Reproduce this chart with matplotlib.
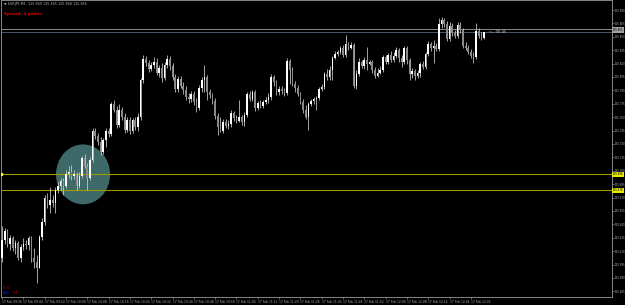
import numpy as np
import pandas as pd
import matplotlib
matplotlib.use('Agg')
import matplotlib.pyplot as plt
from matplotlib.patches import Ellipse

# EURJPY M1 candles
symbol = "EURJPY,M1"
start_time = "2017-02-17 09:36"
spread_points = 4

opn = np.array([
    125.602, 125.623, 125.633, 125.618, 125.625, 125.614, 125.619, 125.602, 125.615, 125.618,
    125.617, 125.625, 125.602, 125.598, 125.591, 125.626, 125.643, 125.670, 125.662, 125.667,
    125.664, 125.679, 125.683, 125.689, 125.683, 125.696, 125.699, 125.694, 125.696, 125.683,
    125.694, 125.714, 125.705, 125.692, 125.712, 125.745, 125.739, 125.732, 125.721, 125.734,
    125.745, 125.741, 125.775, 125.768, 125.751, 125.768, 125.760, 125.746, 125.757, 125.745,
    125.757, 125.749, 125.760, 125.802, 125.825, 125.821, 125.814, 125.818, 125.822, 125.809,
    125.815, 125.804, 125.818, 125.825, 125.817, 125.805, 125.792, 125.803, 125.795, 125.790,
    125.783, 125.780, 125.786, 125.777, 125.770, 125.793, 125.802, 125.805, 125.788, 125.785,
    125.778, 125.761, 125.749, 125.745, 125.755, 125.750, 125.752, 125.765, 125.759, 125.756,
    125.760, 125.755, 125.762, 125.786, 125.780, 125.788, 125.770, 125.776, 125.773, 125.777,
    125.779, 125.783, 125.805, 125.799, 125.788, 125.792, 125.789, 125.787, 125.823, 125.813,
    125.797, 125.793, 125.786, 125.777, 125.768, 125.760, 125.775, 125.778, 125.780, 125.781,
    125.792, 125.794, 125.808, 125.805, 125.813, 125.826, 125.831, 125.833, 125.837, 125.830,
    125.842, 125.837, 125.841, 125.795, 125.808, 125.822, 125.817, 125.824, 125.820, 125.822,
    125.813, 125.806, 125.809, 125.813, 125.827, 125.822, 125.830, 125.824, 125.829, 125.835,
    125.826, 125.822, 125.837, 125.824, 125.808, 125.812, 125.806, 125.809, 125.820, 125.816,
    125.831, 125.842, 125.837, 125.840, 125.836, 125.864, 125.869, 125.864, 125.848, 125.862,
    125.854, 125.851, 125.863, 125.858, 125.840, 125.837, 125.833, 125.829, 125.827, 125.856,
    125.851, 125.849])

high = np.array([
    125.638, 125.636, 125.635, 125.628, 125.627, 125.623, 125.621, 125.618, 125.625, 125.623,
    125.627, 125.627, 125.614, 125.606, 125.628, 125.647, 125.673, 125.675, 125.682, 125.673,
    125.682, 125.687, 125.692, 125.692, 125.701, 125.705, 125.706, 125.701, 125.699, 125.699,
    125.717, 125.719, 125.709, 125.715, 125.748, 125.748, 125.742, 125.738, 125.737, 125.748,
    125.748, 125.777, 125.779, 125.773, 125.775, 125.771, 125.765, 125.760, 125.760, 125.759,
    125.760, 125.765, 125.804, 125.830, 125.829, 125.824, 125.822, 125.827, 125.826, 125.818,
    125.821, 125.822, 125.830, 125.829, 125.821, 125.808, 125.806, 125.806, 125.799, 125.795,
    125.787, 125.789, 125.789, 125.781, 125.796, 125.805, 125.818, 125.807, 125.792, 125.787,
    125.781, 125.765, 125.760, 125.758, 125.758, 125.757, 125.768, 125.767, 125.762, 125.779,
    125.762, 125.766, 125.788, 125.789, 125.790, 125.790, 125.778, 125.779, 125.779, 125.783,
    125.787, 125.808, 125.807, 125.802, 125.795, 125.795, 125.793, 125.826, 125.825, 125.816,
    125.800, 125.796, 125.788, 125.780, 125.774, 125.777, 125.780, 125.783, 125.784, 125.794,
    125.797, 125.811, 125.814, 125.817, 125.829, 125.834, 125.835, 125.840, 125.841, 125.852,
    125.844, 125.844, 125.843, 125.813, 125.826, 125.824, 125.827, 125.839, 125.824, 125.824,
    125.816, 125.815, 125.817, 125.830, 125.830, 125.832, 125.834, 125.833, 125.839, 125.837,
    125.830, 125.840, 125.840, 125.826, 125.815, 125.814, 125.813, 125.822, 125.823, 125.833,
    125.845, 125.844, 125.846, 125.843, 125.871, 125.872, 125.871, 125.868, 125.867, 125.865,
    125.858, 125.867, 125.867, 125.860, 125.844, 125.841, 125.836, 125.833, 125.865, 125.860,
    125.855, 125.855])

low = np.array([
    125.598, 125.618, 125.615, 125.611, 125.610, 125.607, 125.600, 125.598, 125.611, 125.612,
    125.611, 125.598, 125.591, 125.574, 125.591, 125.623, 125.639, 125.658, 125.653, 125.659,
    125.653, 125.675, 125.679, 125.673, 125.681, 125.692, 125.690, 125.691, 125.679, 125.681,
    125.692, 125.703, 125.679, 125.690, 125.710, 125.736, 125.729, 125.718, 125.719, 125.727,
    125.738, 125.739, 125.766, 125.748, 125.749, 125.757, 125.742, 125.743, 125.741, 125.742,
    125.746, 125.745, 125.757, 125.798, 125.817, 125.811, 125.812, 125.815, 125.807, 125.805,
    125.799, 125.802, 125.815, 125.813, 125.802, 125.788, 125.788, 125.793, 125.786, 125.779,
    125.776, 125.777, 125.774, 125.766, 125.768, 125.788, 125.788, 125.779, 125.781, 125.775,
    125.758, 125.740, 125.743, 125.742, 125.748, 125.747, 125.749, 125.756, 125.754, 125.755,
    125.751, 125.750, 125.760, 125.778, 125.778, 125.767, 125.768, 125.770, 125.770, 125.775,
    125.776, 125.779, 125.795, 125.785, 125.785, 125.786, 125.784, 125.785, 125.797, 125.795,
    125.788, 125.784, 125.775, 125.765, 125.758, 125.746, 125.773, 125.775, 125.768, 125.779,
    125.789, 125.792, 125.802, 125.802, 125.802, 125.825, 125.829, 125.831, 125.827, 125.827,
    125.835, 125.836, 125.793, 125.792, 125.806, 125.815, 125.814, 125.813, 125.818, 125.809,
    125.804, 125.805, 125.808, 125.811, 125.820, 125.820, 125.822, 125.822, 125.826, 125.822,
    125.816, 125.820, 125.820, 125.802, 125.804, 125.802, 125.804, 125.805, 125.814, 125.814,
    125.829, 125.834, 125.821, 125.834, 125.834, 125.860, 125.861, 125.845, 125.845, 125.851,
    125.849, 125.849, 125.854, 125.837, 125.835, 125.831, 125.826, 125.821, 125.825, 125.849,
    125.846, 125.848])

close = np.array([
    125.623, 125.633, 125.618, 125.625, 125.614, 125.619, 125.602, 125.615, 125.618, 125.617,
    125.625, 125.602, 125.598, 125.591, 125.626, 125.643, 125.670, 125.662, 125.667, 125.664,
    125.679, 125.683, 125.689, 125.683, 125.696, 125.699, 125.694, 125.696, 125.683, 125.694,
    125.714, 125.705, 125.692, 125.712, 125.745, 125.739, 125.732, 125.721, 125.734, 125.745,
    125.741, 125.775, 125.768, 125.751, 125.768, 125.760, 125.746, 125.757, 125.745, 125.757,
    125.749, 125.760, 125.802, 125.825, 125.821, 125.814, 125.818, 125.822, 125.809, 125.815,
    125.804, 125.818, 125.825, 125.817, 125.805, 125.792, 125.803, 125.795, 125.790, 125.783,
    125.780, 125.786, 125.777, 125.770, 125.793, 125.802, 125.805, 125.788, 125.785, 125.778,
    125.761, 125.749, 125.745, 125.755, 125.750, 125.752, 125.765, 125.759, 125.756, 125.760,
    125.755, 125.762, 125.786, 125.780, 125.788, 125.770, 125.776, 125.773, 125.777, 125.779,
    125.783, 125.805, 125.799, 125.788, 125.792, 125.789, 125.787, 125.823, 125.813, 125.797,
    125.793, 125.786, 125.777, 125.768, 125.760, 125.775, 125.778, 125.780, 125.781, 125.792,
    125.794, 125.808, 125.805, 125.813, 125.826, 125.831, 125.833, 125.837, 125.830, 125.842,
    125.837, 125.841, 125.795, 125.808, 125.822, 125.817, 125.824, 125.820, 125.822, 125.813,
    125.806, 125.809, 125.813, 125.827, 125.822, 125.830, 125.824, 125.829, 125.835, 125.826,
    125.822, 125.837, 125.824, 125.808, 125.812, 125.806, 125.809, 125.820, 125.816, 125.831,
    125.842, 125.837, 125.840, 125.836, 125.864, 125.869, 125.864, 125.848, 125.862, 125.854,
    125.851, 125.863, 125.858, 125.840, 125.837, 125.833, 125.829, 125.827, 125.856, 125.851,
    125.849, 125.855])

# horizontal levels and the circle object
level_upper = 125.696
level_lower = 125.678
circle_bar = 30.4
circle_price = 125.696
circle_w_bars = 20.3
circle_h_price = 0.067
timer_text = "<-- 00:45"

times = pd.date_range(start_time, periods=len(close), freq='1min')
bid = close[-1]
ask = bid + spread_points * 0.001

ymin, ymax = 125.5587, 125.8912

fig = plt.figure(figsize=(6.25, 3.05), dpi=100, facecolor='black')
ax = fig.add_axes([1 / 625, 8 / 305, 611 / 625, 297 / 305], facecolor='black')

x = np.arange(len(close))

ax.add_patch(Ellipse((circle_bar, circle_price), circle_w_bars, circle_h_price,
                     facecolor='#3d6969', edgecolor='none', zorder=1))

ax.axhline(level_upper, color='#9c9c00', lw=0.8, zorder=2)
ax.axhline(level_lower, color='#9c9c00', lw=0.8, zorder=2)
ax.plot([x[0] - 0.3], [level_upper], marker='s', ms=1.4, color='#ffff40', zorder=5)

ax.axhline(ask, color='#8c8c8c', lw=0.7, zorder=2)
ax.axhline(bid, color='#4a5868', lw=0.7, zorder=2)

# candles
bull = close >= opn
bottom = np.minimum(opn, close)
height = np.maximum(np.abs(close - opn), 0.0007)
ax.vlines(x, low, high, color='#cfcfcf', linewidth=0.55, zorder=3)
ax.bar(x[bull], height[bull], bottom=bottom[bull], width=0.6, color='white', linewidth=0, zorder=4)
ax.bar(x[~bull], height[~bull], bottom=bottom[~bull], width=0.6, color='#8a8a8a', linewidth=0, zorder=4)

ax.set_xlim(-0.4, 229)
ax.set_ylim(ymin, ymax)

# price scale on the right
ax.yaxis.tick_right()
yt = np.arange(125.565, 125.8811, 0.015)
ax.set_yticks(yt)
ax.set_yticklabels([f"{v:.3f}" for v in yt])
ax.tick_params(axis='y', colors='#b0b0b0', labelsize=1.9, length=1.2, width=0.4, pad=0.6)

# time scale
xt = x[::8]
ax.set_xticks(xt)
ax.set_xticklabels([times[i].strftime('%d %b %H:%M') for i in xt])
ax.tick_params(axis='x', colors='#b0b0b0', labelsize=2.2, length=1.5, width=0.4, pad=0.8)
for lbl in ax.get_xticklabels():
    lbl.set_ha('left')

for s in ax.spines.values():
    s.set_color('#9a9a9a')
    s.set_linewidth(0.6)

# price tags on the scale
for lvl in (level_upper, level_lower):
    ax.text(1.001, (lvl - ymin) / (ymax - ymin), f"{lvl:.3f}", transform=ax.transAxes,
            fontsize=1.9, color='black', va='center', ha='left', clip_on=False,
            bbox=dict(boxstyle='square,pad=0.15', fc='#e8e800', ec='none'))
ax.text(1.001, (bid - ymin) / (ymax - ymin) + 0.008, f"{bid:.3f}", transform=ax.transAxes,
        fontsize=1.9, color='black', va='center', ha='left', clip_on=False,
        bbox=dict(boxstyle='square,pad=0.3', fc='#a0a0a0', ec='none'))

# texts
ax.text(x[-1] + 2, bid, timer_text, fontsize=2.6, color='#d0d0d0', va='center', ha='left')
fig.text(4 / 625, 1 - 4 / 305, f"\u25bc {symbol}  {opn[-1]:.3f} {high[-1]:.3f} {low[-1]:.3f} {close[-1]:.3f}",
         fontsize=2.4, color='#b0b0b0', va='center', ha='left')
fig.text(4 / 625, 1 - 14 / 305, f"Spread: {spread_points} points", fontsize=3.0, color='#e00000',
         va='center', ha='left', fontweight='bold')
fig.text(3 / 625, 1 - 288 / 305, "0 0", fontsize=3.0, color='#d00000', va='center', ha='left')
fig.text(3 / 625, 1 - 293 / 305, "0.4", fontsize=2.4, color='#2020ff', va='center', ha='left')
fig.text(13 / 625, 1 - 293 / 305, "0.4", fontsize=2.4, color='#d00000', va='center', ha='left')

fig.savefig('out.png', dpi=100, facecolor='black')
